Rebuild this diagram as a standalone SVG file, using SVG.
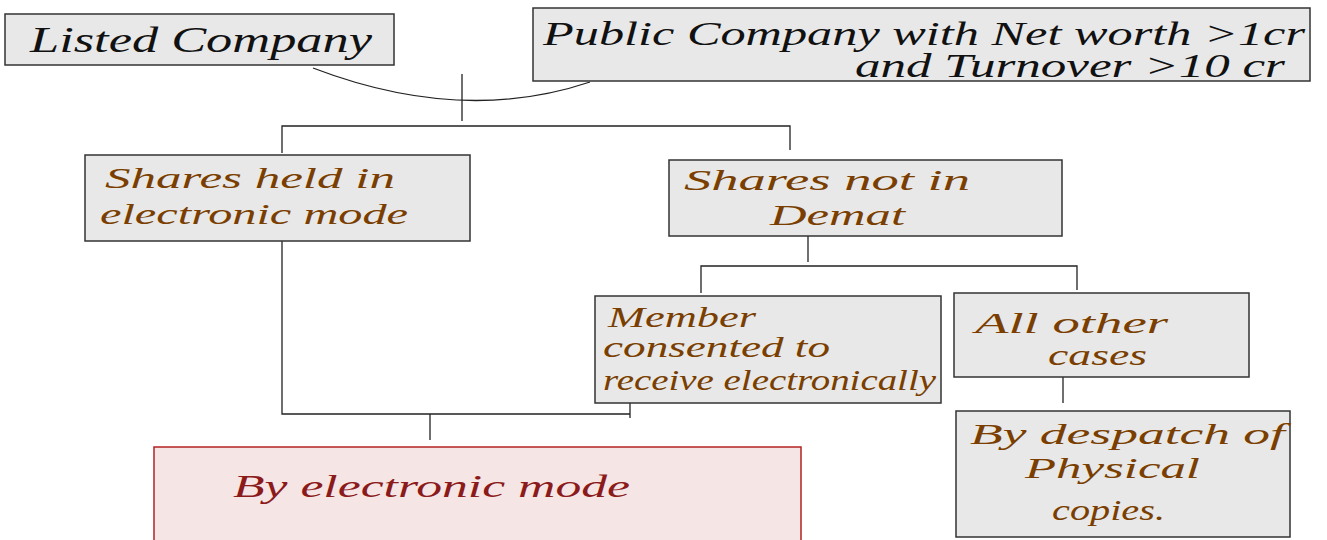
<svg xmlns="http://www.w3.org/2000/svg" width="1327" height="540" viewBox="0 0 1327 540">
<style>
.box{fill:#e8e8e8;stroke:#333;stroke-width:1.5}
.red{fill:#f6e5e5;stroke:#b22222;stroke-width:1.5}
.t{font-family:"Liberation Serif",serif;font-style:italic;}
.blk{fill:#111}
.brn{fill:#7a3f00}
.dr{fill:#8b1a1a}
.c{fill:none;stroke:#222;stroke-width:1.3}
</style>
<rect width="1327" height="540" fill="#fff"/>
<g id="connectors">
<path class="c" d="M313,68 Q462,125 590,82"/>
<path class="c" d="M462,74 V121"/>
<path class="c" d="M282,153 V126 H790 V150"/>
<path class="c" d="M808,236 V262"/>
<path class="c" d="M701,293 V266 H1077 V290"/>
<path class="c" d="M1063,377 V403"/>
<path class="c" d="M282,241 V414 H630"/>
<path class="c" d="M630,403 V418"/>
<path class="c" d="M430,414 V440"/>
</g>
<g id="listed">
<rect class="box" x="5" y="14" width="389" height="51"/>
<text class="t blk" x="30" y="52" font-size="36" textLength="342" lengthAdjust="spacingAndGlyphs">Listed Company</text>
</g>
<g id="public">
<rect class="box" x="533" y="8" width="777" height="73"/>
<text class="t blk" x="543" y="45" font-size="33" textLength="762" lengthAdjust="spacingAndGlyphs">Public Company with Net worth &gt;1cr</text>
<text class="t blk" x="855" y="77" font-size="33" textLength="430" lengthAdjust="spacingAndGlyphs">and Turnover &gt;10 cr</text>
</g>
<g id="held">
<rect class="box" x="85" y="155" width="385" height="86"/>
<text class="t brn" x="105" y="188" font-size="30" textLength="290" lengthAdjust="spacingAndGlyphs">Shares held in</text>
<text class="t brn" x="100" y="224" font-size="30" textLength="308" lengthAdjust="spacingAndGlyphs">electronic mode</text>
</g>
<g id="notdemat">
<rect class="box" x="669" y="160" width="393" height="76"/>
<text class="t brn" x="684" y="190" font-size="30" textLength="286" lengthAdjust="spacingAndGlyphs">Shares not in</text>
<text class="t brn" x="770" y="225" font-size="30" textLength="135" lengthAdjust="spacingAndGlyphs">Demat</text>
</g>
<g id="member">
<rect class="box" x="595" y="296" width="346" height="107"/>
<text class="t brn" x="608" y="327" font-size="29" textLength="148" lengthAdjust="spacingAndGlyphs">Member</text>
<text class="t brn" x="603" y="357" font-size="29" textLength="227" lengthAdjust="spacingAndGlyphs">consented to</text>
<text class="t brn" x="603" y="390" font-size="29" textLength="333" lengthAdjust="spacingAndGlyphs">receive electronically</text>
</g>
<g id="other">
<rect class="box" x="954" y="293" width="295" height="84"/>
<text class="t brn" x="975" y="333" font-size="30" textLength="193" lengthAdjust="spacingAndGlyphs">All other</text>
<text class="t brn" x="1048" y="365" font-size="30" textLength="99" lengthAdjust="spacingAndGlyphs">cases</text>
</g>
<g id="despatch">
<rect class="box" x="956" y="411" width="334" height="126"/>
<text class="t brn" x="970" y="444" font-size="30" textLength="315" lengthAdjust="spacingAndGlyphs">By despatch of</text>
<text class="t brn" x="1025" y="478" font-size="30" textLength="175" lengthAdjust="spacingAndGlyphs">Physical</text>
<text class="t brn" x="1052" y="520" font-size="30" textLength="113" lengthAdjust="spacingAndGlyphs">copies.</text>
</g>
<g id="electronic">
<rect class="red" x="154" y="447" width="647" height="100"/>
<text class="t dr" x="233" y="497" font-size="32" textLength="397" lengthAdjust="spacingAndGlyphs">By electronic mode</text>
</g>
</svg>
